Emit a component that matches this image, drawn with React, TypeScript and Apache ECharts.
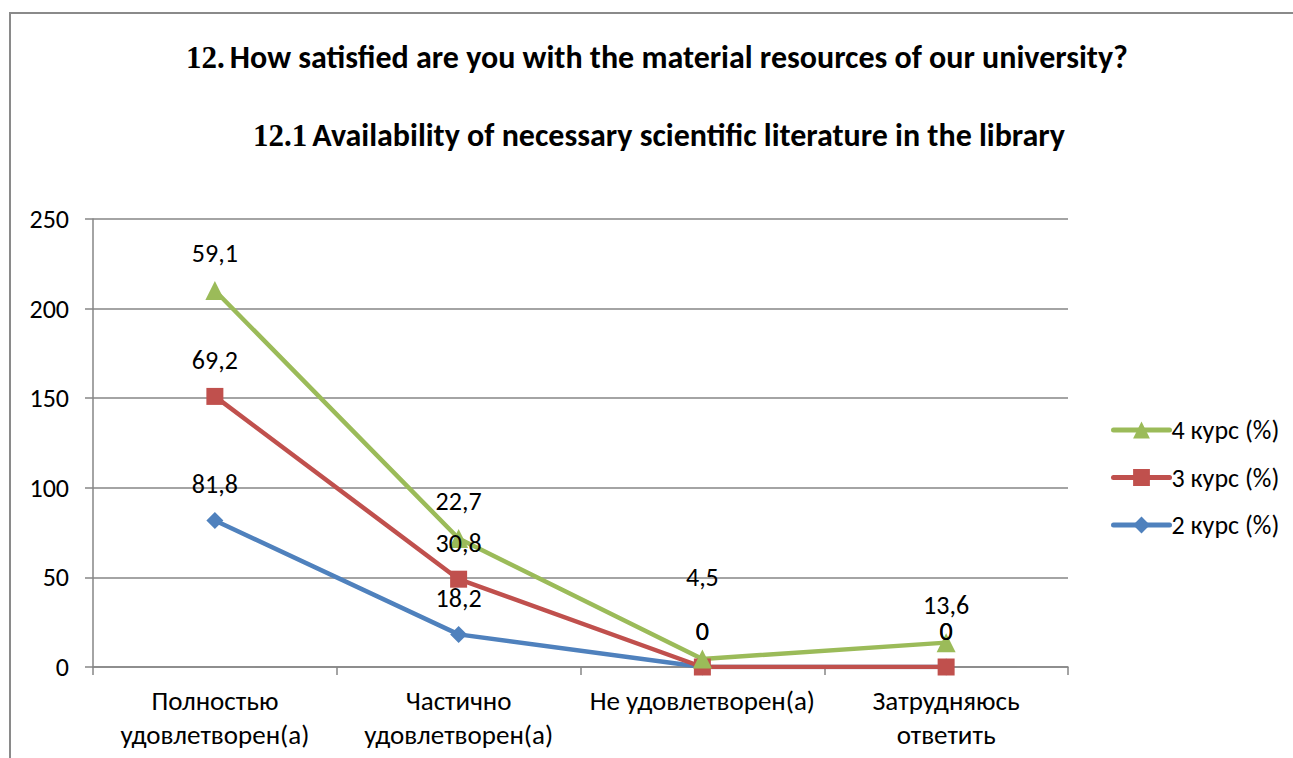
import React, { useEffect, useRef } from "react";
import * as echarts from "echarts";

const categories = [
  "Полностью\nудовлетворен(а)",
  "Частично\nудовлетворен(а)",
  "Не удовлетворен(а)",
  "Затрудняюсь\nответить",
];
const seriesNames = ["2 курс (%)", "3 курс (%)", "4 курс (%)"];
const course2 = [81.8, 18.2, 0, 0];
const course3 = [69.2, 30.8, 0, 0];
const course4 = [59.1, 22.7, 4.5, 13.6];
const yTicks = { min: 0, max: 250, interval: 50 };

const FONT = "Carlito, Calibri, 'Open Sans', sans-serif";

export default function App() {
  const ref = useRef<HTMLDivElement>(null);
  useEffect(() => {
    if (!ref.current) return;
    const chart = echarts.init(ref.current, null, { renderer: "svg" });
    const colors = ["#4F81BD", "#C0504D", "#9BBB59"];
    const symbols = ["diamond", "rect", "triangle"];
    const symbolSizes = [17, 17, 19];
    const values = [course2, course3, course4];
    const series = values.map((vals, si) => ({
      name: seriesNames[si],
      type: "line",
      stack: "total",
      data: vals.map((v, i) => {
        const item: any = { value: v };
        if (si === 2 && i === 2) item.label = { distance: 59 };
        return item;
      }),
      symbol: symbols[si],
      symbolSize: symbolSizes[si],
      lineStyle: { color: colors[si], width: 4.5 },
      itemStyle: { color: colors[si] },
      label: {
        show: true,
        position: "top",
        distance: 15,
        color: "#000",
        fontSize: 26,
        fontFamily: FONT,
        formatter: (p: any) => String(p.value).replace(".", ","),
      },
    }));
    const titleRich = {
      a: { fontFamily: "'Liberation Serif', serif", fontWeight: "bold", fontSize: 31, color: "#000" },
      b: { fontFamily: FONT, fontWeight: "bold", fontSize: 32, color: "#000" },
    };
    chart.setOption({
      animation: false,
      backgroundColor: "#fff",
      title: [
        {
          text: "{a|12.} {b|How satisfied are you with the material resources of our university?}",
          left: 652,
          top: 36,
          textAlign: "center",
          textStyle: { rich: titleRich },
        },
        {
          text: "{a|12.1} {b|Availability of necessary scientific literature in the library}",
          left: 654,
          top: 114,
          textAlign: "center",
          textStyle: { rich: titleRich },
        },
      ],
      graphic: [
        {
          type: "rect",
          shape: { x: 10, y: 13, width: 2000, height: 2000 },
          style: { fill: "none", stroke: "#8a8a8a", lineWidth: 2 },
          silent: true,
        },
      ],
      legend: {
        orient: "vertical",
        left: 1106,
        top: 412,
        itemWidth: 56,
        itemHeight: 21,
        itemGap: 21.5,
        data: ["4 курс (%)", "3 курс (%)", "2 курс (%)"],
        lineStyle: { width: 5, cap: "round" },
        textStyle: { fontSize: 26, fontFamily: FONT, color: "#000", lineHeight: 26, padding: [0, 0, 0, -3] },
      },
      grid: { left: 93, right: 225, top: 219, bottom: 91, containLabel: false },
      xAxis: {
        type: "category",
        data: categories,
        boundaryGap: true,
        axisLine: { lineStyle: { color: "#868686", width: 1.5 } },
        axisTick: { show: true, length: 8, lineStyle: { color: "#868686", width: 1.5 } },
        axisLabel: {
          color: "#000",
          fontSize: 27,
          fontFamily: FONT,
          lineHeight: 34,
          margin: 16,
          interval: 0,
        },
      },
      yAxis: {
        type: "value",
        min: yTicks.min,
        max: yTicks.max,
        interval: yTicks.interval,
        axisLine: { show: true, lineStyle: { color: "#868686", width: 1.5 } },
        axisTick: { show: true, length: 8, lineStyle: { color: "#868686", width: 1.5 } },
        splitLine: { lineStyle: { color: "#868686", width: 1.5 } },
        axisLabel: { color: "#000", fontSize: 26, fontFamily: FONT, margin: 24 },
      },
      series,
    });
    return () => chart.dispose();
  }, []);
  return (
    <div
      ref={ref}
      style={{ position: "absolute", left: 0, top: 0, width: 1293, height: 758 }}
    />
  );
}
